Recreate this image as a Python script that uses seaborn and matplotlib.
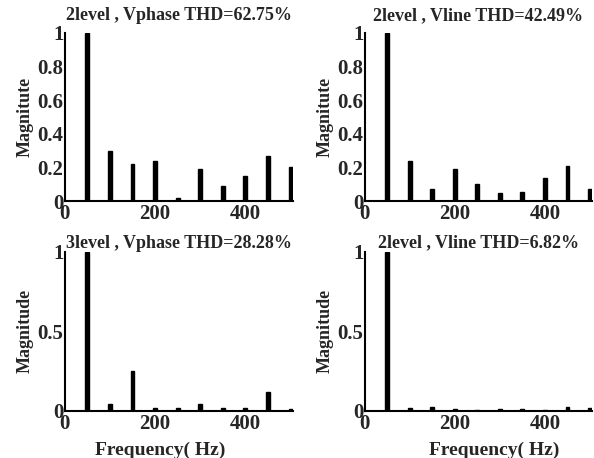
import matplotlib
matplotlib.use('Agg')
import matplotlib.pyplot as plt
import seaborn as sns
import pandas as pd

# frequenze armoniche (Hz)
freq = [50, 100, 150, 200, 250, 300, 350, 400, 450, 500]

# ampiezze normalizzate
mag_2l_phase = [1.0, 0.30, 0.22, 0.24, 0.02, 0.19, 0.09, 0.15, 0.27, 0.20]
mag_2l_line = [1.0, 0.24, 0.07, 0.19, 0.10, 0.05, 0.055, 0.14, 0.21, 0.07]
mag_3l_phase = [1.0, 0.04, 0.25, 0.015, 0.02, 0.04, 0.015, 0.015, 0.12, 0.01]
mag_3l_line = [1.0, 0.015, 0.025, 0.01, 0.003, 0.01, 0.01, 0.005, 0.025, 0.015]

titles = ['2level , Vphase THD=62.75%', '2level , Vline THD=42.49%',
          '3level , Vphase THD=28.28%', '2level , Vline THD=6.82%']
ylabels = ['Magnitute', 'Magnitute', 'Magnitude', 'Magnitude']

sns.set_style('white')
plt.rcParams['font.family'] = ['Liberation Serif', 'DejaVu Serif']
plt.rcParams['font.weight'] = 'bold'
plt.rcParams['axes.labelweight'] = 'bold'

fig = plt.figure(figsize=(5.94, 4.58), dpi=100)
pos = [[0.109, 0.561, 0.384, 0.367],
       [0.614, 0.561, 0.383, 0.367],
       [0.109, 0.103, 0.384, 0.347],
       [0.614, 0.103, 0.383, 0.347]]
dati = [mag_2l_phase, mag_2l_line, mag_3l_phase, mag_3l_line]
xlab_x = [0.5, 0.5, 0.42, 0.57]

for i in range(4):
    ax = fig.add_axes(pos[i])
    df = pd.DataFrame({'f': freq, 'm': dati[i]})
    sns.barplot(data=df, x='f', y='m', native_scale=True, color='black',
                width=0.17, errorbar=None, ax=ax, edgecolor='black')
    ax.set_xlim(0, 505)
    ax.set_ylim(0, 1.0)
    ax.set_xticks([0, 200, 400])
    ax.set_xticklabels(['0', '200', '400'])
    if i < 2:
        ax.set_yticks([0, 0.2, 0.4, 0.6, 0.8, 1.0])
        ax.set_yticklabels(['0', '0.2', '0.4', '0.6', '0.8', '1'])
        ax.set_xlabel('')
        ax.set_title(titles[i], fontsize=13, fontweight='bold', pad=9)
    else:
        ax.set_yticks([0, 0.5, 1.0])
        ax.set_yticklabels(['0', '0.5', '1'])
        ax.set_xlabel('Frequency( Hz)', fontsize=14, labelpad=6)
        ax.xaxis.label.set_x(xlab_x[i])
        ax.set_title(titles[i], fontsize=13, fontweight='bold', pad=3)
    ax.set_ylabel(ylabels[i], fontsize=13, labelpad=3)
    ax.tick_params(axis='y', labelsize=15, length=0, pad=1)
    ax.tick_params(axis='x', labelsize=15, length=0, pad=2)
    sns.despine(ax=ax)
    ax.spines['left'].set_linewidth(1.5)
    ax.spines['bottom'].set_linewidth(1.5)
    ax.spines['left'].set_color('black')
    ax.spines['bottom'].set_color('black')

fig.savefig('out.png', dpi=100)
